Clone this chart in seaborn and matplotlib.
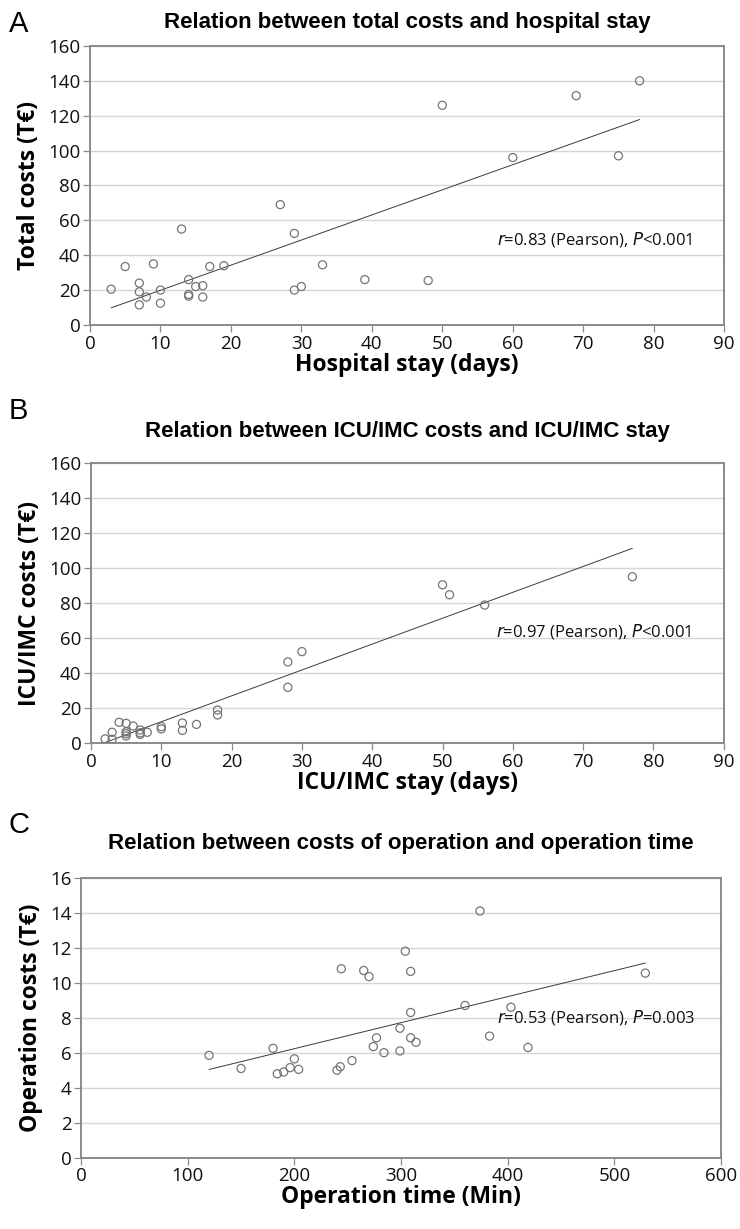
import matplotlib
matplotlib.use("Agg")
import matplotlib.pyplot as plt
import numpy as np
import pandas as pd
import seaborn as sns

# Panel A: total costs vs hospital stay
hosp_stay = [3, 5, 7, 7, 7, 8, 9, 10, 10, 13, 14, 14, 14, 15, 16, 16, 17, 19,
             27, 29, 29, 30, 33, 39, 48, 50, 60, 69, 75, 78]
total_costs = [20.5, 33.5, 24, 19, 11.5, 16, 35, 20, 12.5, 55, 26, 17.5, 16.5, 22,
               22.5, 16, 33.5, 34, 69, 52.5, 20, 22, 34.5, 26, 25.5, 126, 96, 131.5, 97, 140]

# Panel B: ICU/IMC costs vs ICU/IMC stay
icu_stay = [2, 3, 3, 4, 5, 5, 5, 5, 6, 7, 7, 7, 8, 10, 10, 13, 13, 15, 18, 18,
            28, 28, 30, 50, 51, 56, 77]
icu_costs = [2.5, 6.3, 2.3, 12, 11.4, 6.6, 4.2, 5.5, 9.9, 7.6, 5.1, 6.0, 6.3, 9.5, 8.2,
             11.6, 7.4, 10.8, 19, 16.2, 46.5, 32, 52.4, 90.6, 84.9, 79, 95.2]

# Panel C: operation costs vs operation time
op_time = [120, 150, 180, 184, 190, 196, 200, 204, 240, 243, 244, 254, 265, 270, 274,
           277, 284, 299, 299, 304, 309, 309, 309, 314, 360, 374, 383, 403, 419, 529]
op_costs = [5.85, 5.1, 6.25, 4.8, 4.9, 5.15, 5.65, 5.05, 5.0, 5.2, 10.8, 5.55, 10.7, 10.35,
            6.35, 6.85, 6.0, 7.4, 6.1, 11.8, 10.65, 8.3, 6.85, 6.6, 8.7, 14.1, 6.95, 8.6, 6.3, 10.55]

sns.set_style("white")
plt.rcParams['font.family'] = ['Open Sans', 'DejaVu Sans']

SPINE = '#8a8a8a'
GRID = '#d6d6d6'
MARK = '#757575'

fig = plt.figure(figsize=(7.4, 12.29), dpi=100)

panels = [
    dict(x=hosp_stay, y=total_costs, pos=[0.1216, 0.7356, 0.857, 0.227],
         xlim=(0, 90), xticks=range(0, 91, 10), ylim=(0, 160), yticks=range(0, 161, 20),
         title='Relation between total costs and hospital stay', pad=13,
         xlabel='Hospital stay (days)', ylabel='Total costs (T€)',
         letter='A', letter_y=0.992, stat=('0.83', '<0.001'), txt=(57.8, 49)),
    dict(x=icu_stay, y=icu_costs, pos=[0.1230, 0.3952, 0.855, 0.2278],
         xlim=(0, 90), xticks=range(0, 91, 10), ylim=(0, 160), yticks=range(0, 161, 20),
         title='Relation between ICU/IMC costs and ICU/IMC stay', pad=19,
         xlabel='ICU/IMC stay (days)', ylabel='ICU/IMC costs (T€)',
         letter='B', letter_y=0.677, stat=('0.97', '<0.001'), txt=(57.6, 64)),
    dict(x=op_time, y=op_costs, pos=[0.1095, 0.058, 0.8649, 0.2278],
         xlim=(0, 600), xticks=range(0, 601, 100), ylim=(0, 16), yticks=range(0, 17, 2),
         title='Relation between costs of operation and operation time', pad=21,
         xlabel='Operation time (Min)', ylabel='Operation costs (T€)',
         letter='C', letter_y=0.340, stat=('0.53', '=0.003'), txt=(390, 8.0)),
]

for p in panels:
    ax = fig.add_axes(p['pos'])
    df = pd.DataFrame({'x': p['x'], 'y': p['y']})
    ax.set_yticks(list(p['yticks']))
    ax.set_xticks(list(p['xticks']))
    ax.yaxis.grid(True, color=GRID, linewidth=1.0)
    ax.set_axisbelow(True)

    # trend line + open circles
    sns.regplot(data=df, x='x', y='y', ax=ax, scatter=False, ci=None, truncate=True,
                line_kws=dict(color='#3a3a3a', linewidth=0.7))
    sns.scatterplot(data=df, x='x', y='y', ax=ax, s=34, facecolor='none',
                    edgecolor=MARK, linewidth=0.9, zorder=3)
    ax.set_xlim(*p['xlim'])
    ax.set_ylim(*p['ylim'])

    for sp in ax.spines.values():
        sp.set_color(SPINE)
        sp.set_linewidth(1.4)
    ax.tick_params(axis='both', which='major', length=5, width=0.9, color=SPINE,
                   labelsize=13.5, labelcolor='#111111', direction='out',
                   left=True, bottom=True, pad=2)

    ax.set_xlabel(p['xlabel'], fontsize=16.5, fontweight='bold', labelpad=0, color='black')
    ax.set_ylabel(p['ylabel'], fontsize=16.5, fontweight='bold', labelpad=5, color='black')
    ax.set_title(p['title'], fontsize=16, fontweight='bold', color='black',
                 family=['Liberation Sans', 'DejaVu Sans'], pad=p['pad'])

    r, pv = p['stat']
    ax.text(p['txt'][0], p['txt'][1],
            r'$\it{r}$=' + r + ' (Pearson), ' + r'$\it{P}$' + pv,
            fontsize=12, va='center', ha='left', color='#111111')

    fig.text(0.012, p['letter_y'], p['letter'], fontsize=21, color='black',
             family=['Liberation Sans', 'DejaVu Sans'], va='top', ha='left')

fig.savefig('out.png', dpi=100)
